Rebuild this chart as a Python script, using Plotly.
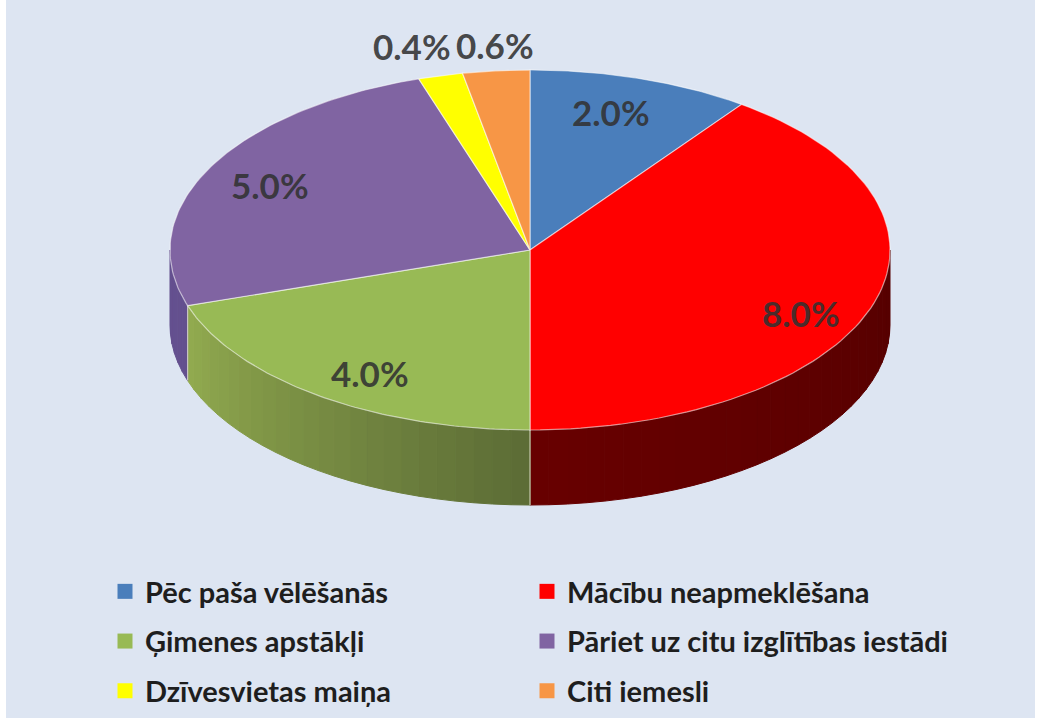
import numpy as np
import plotly.graph_objects as go

categories = ["Pēc paša vēlēšanās", "Mācību neapmeklēšana", "Ģimenes apstākļi",
              "Pāriet uz citu izglītības iestādi", "Dzīvesvietas maiņa", "Citi iemesli"]
values = [2.0, 8.0, 4.0, 5.0, 0.4, 0.6]
colors = ["#4A7EBB", "#FF0000", "#98BA55", "#8064A2", "#FFFF00", "#F79646"]
# side wall shading: colour at the slice's start angle and end angle
side_start = ["#3A6496", "#560000", "#5C6C36", "#64508F", "#B0B000", "#B06A30"]
side_end = ["#3A6496", "#680000", "#93AC50", "#64508F", "#B0B000", "#B06A30"]
# label positions as (x, y) in page pixels
label_px = [(611, 112), (801, 313), (370, 373), (270, 185), (412, 46), (495, 45)]
left_column = [0, 2, 4]
right_column = [1, 3, 5]

W, H = 1041, 720
CX, CY, RX, RY, DEPTH = 530, 250, 360, 180, 75
PANEL = dict(l=6, r=1035, t=0, b=718)
BG = "#DDE5F2"
FONT = "Lato"


def hex_rgb(c):
    return np.array([int(c[i:i + 2], 16) for i in (1, 3, 5)], float)


def mix(a, b, t):
    v = hex_rgb(a) * (1 - t) + hex_rgb(b) * t
    return "rgb(%d,%d,%d)" % tuple(v)


def ell(theta):
    return RX * np.sin(theta), -RY * np.cos(theta)


fig = go.Figure()
total = sum(values)
edges = np.radians(np.concatenate([[0], np.cumsum(values)]) / total * 360)

# side walls: only the front half (90deg..270deg clockwise from the top) shows
for i in range(len(values)):
    a0, a1 = max(edges[i], np.pi / 2), min(edges[i + 1], 3 * np.pi / 2)
    if a1 <= a0:
        continue
    n = max(1, int(np.degrees(a1 - a0) / 3))
    steps = np.linspace(a0, a1, n + 1)
    for k in range(n):
        t = np.linspace(steps[k], steps[k + 1], 6)
        x, y = ell(t)
        xs = np.concatenate([x, x[::-1], x[:1]])
        ys = np.concatenate([y, y[::-1] + DEPTH, y[:1]])
        c = mix(side_start[i], side_end[i], (k + 0.5) / n)
        fig.add_trace(go.Scatter(x=xs, y=ys, mode="lines", fill="toself", fillcolor=c,
                                 line=dict(color=c, width=1), hoverinfo="skip",
                                 showlegend=False, legendgroup=categories[i]))

# vertical seams on the wall where slices meet at the front
for e in edges:
    if np.pi / 2 < e < 3 * np.pi / 2:
        x, y = ell(np.array([e]))
        fig.add_trace(go.Scatter(x=[x[0], x[0]], y=[y[0], y[0] + DEPTH], mode="lines",
                                 line=dict(color="rgba(235,235,215,0.75)", width=1.2),
                                 hoverinfo="skip", showlegend=False))

# top faces
for i in range(len(values)):
    t = np.linspace(edges[i], edges[i + 1], 90)
    x, y = ell(t)
    fig.add_trace(go.Scatter(x=np.concatenate([[0], x, [0]]), y=np.concatenate([[0], y, [0]]),
                             mode="lines", fill="toself", fillcolor=colors[i],
                             line=dict(color="rgba(255,255,255,0.55)", width=1.2),
                             name=categories[i], legendgroup=categories[i], showlegend=False,
                             hovertemplate=categories[i] + ": %{text}<extra></extra>",
                             text=[f"{values[i]:.1f}%"] * 92))

# legend entries: two native legends, one per column
for legend_id, col in (("legend", left_column), ("legend2", right_column)):
    for i in col:
        fig.add_trace(go.Scatter(x=[None], y=[None], mode="markers", name=categories[i],
                                 marker=dict(symbol="square", size=15, color=colors[i]),
                                 legendgroup=categories[i], legend=legend_id))

# data labels
for i, (px, py) in enumerate(label_px):
    fig.add_annotation(x=px - CX, y=py - CY, text=f"<b>{values[i]:.1f}%</b>", showarrow=False,
                       font=dict(family=FONT, size=35, color="rgba(50,50,50,0.9)"))

legend_common = dict(orientation="v", traceorder="grouped", tracegroupgap=9,
                     bgcolor="rgba(0,0,0,0)", itemclick=False, itemdoubleclick=False,
                     font=dict(family=FONT, size=29, color="#1E1E1E", weight="bold"),
                     xanchor="left", yanchor="top", itemwidth=30)
pw = PANEL["r"] - PANEL["l"]
ph = PANEL["b"] - PANEL["t"]
fig.update_layout(
    width=W, height=H, showlegend=True,
    paper_bgcolor="white", plot_bgcolor=BG,
    margin=dict(l=PANEL["l"], r=W - PANEL["r"], t=PANEL["t"], b=H - PANEL["b"], pad=0),
    xaxis=dict(range=[PANEL["l"] - CX, PANEL["r"] - CX], visible=False, fixedrange=True),
    yaxis=dict(range=[PANEL["b"] - CY, PANEL["t"] - CY], visible=False, fixedrange=True),
    legend=dict(x=(105 - PANEL["l"]) / pw, y=1 - (566 - PANEL["t"]) / ph, **legend_common),
    legend2=dict(x=(527 - PANEL["l"]) / pw, y=1 - (566 - PANEL["t"]) / ph, **legend_common),
)
fig.write_html("out.html", config={"displayModeBar": False},
               post_script="document.body.style.margin='0';document.body.style.overflow='hidden';")
